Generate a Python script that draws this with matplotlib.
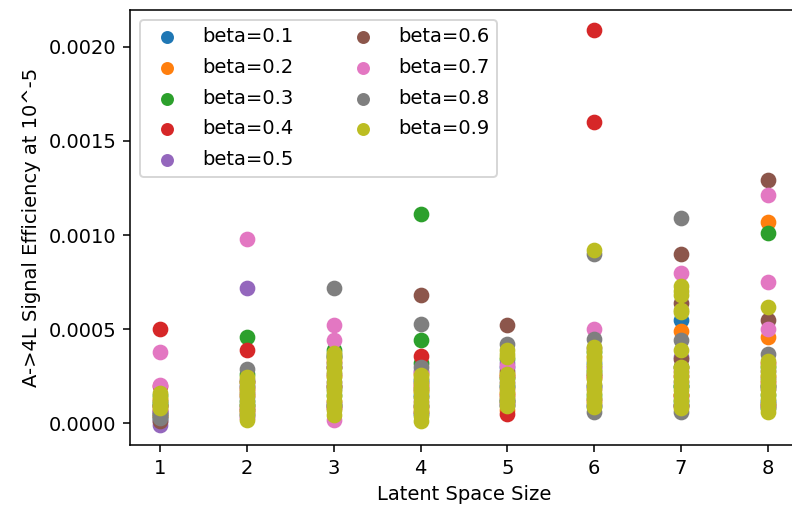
import numpy as np
import matplotlib
matplotlib.use('Agg')
import matplotlib.pyplot as plt

# latent space sizes on the x axis
latent_sizes = [1, 2, 3, 4, 5, 6, 7, 8]
betas = [0.1, 0.2, 0.3, 0.4, 0.5, 0.6, 0.7, 0.8, 0.9]

# signal efficiency values (in units of 1e-4), one list per latent size
eff_b01 = [[0.3, 0.6, 1.0], [0.5, 1.2, 2.0], [1.0, 2.0, 3.0], [0.5, 1.5, 2.3],
           [1.0, 2.0, 3.0], [0.9, 2.0, 3.2], [5.5, 2.0, 1.0], [2.0, 1.2, 0.8]]
eff_b02 = [[0.4, 0.9, 1.3], [0.6, 1.5, 2.2], [1.2, 2.5, 3.3], [0.8, 1.7, 2.6],
           [0.7, 1.6, 2.6], [1.2, 2.4, 3.5], [4.9, 3.0, 1.5], [10.7, 4.6, 2.5]]
eff_b03 = [[0.5, 1.1, 1.5], [4.6, 2.6, 1.0], [3.9, 3.6, 1.5], [11.1, 4.4, 3.2],
           [1.2, 2.4, 3.4], [1.5, 2.8, 3.8], [3.0, 2.0, 1.2], [10.1, 3.0, 1.5]]
eff_b04 = [[5.0, 2.0, 0.7], [3.9, 1.8, 0.8], [3.0, 2.0, 0.8], [3.6, 2.0, 0.6],
           [0.5, 1.5, 2.5], [20.9, 16.0, 2.5], [2.5, 1.5, 0.9], [2.2, 1.0, 3.2]]
eff_b05 = [[-0.1, 0.1, 0.6], [7.2, 1.4, 0.4], [1.1, 2.2, 3.2], [1.0, 2.2, 2.8],
           [1.0, 2.2, 3.2], [1.0, 2.0, 3.0], [3.5, 2.2, 1.0], [1.8, 2.8, 0.9]]
eff_b06 = [[0.1, 0.4, 0.9], [0.7, 1.6, 2.3], [0.9, 2.6, 3.5], [6.8, 1.8, 0.9],
           [5.2, 2.8, 1.3], [1.3, 2.6, 4.0], [9.0, 6.4, 3.4], [12.9, 5.5, 2.0]]
eff_b07 = [[3.8, 2.05, 0.6], [9.8, 2.0, 0.3], [5.2, 4.4, 0.2], [1.2, 2.1, 2.7],
           [3.05, 1.8, 1.1], [5.0, 3.0, 1.8], [8.0, 2.8, 1.4], [12.1, 7.5, 5.0]]
eff_b08 = [[0.3, 0.5, 1.2], [2.9, 2.2, 1.0], [7.2, 3.7, 1.8], [5.3, 3.0, 1.4],
           [4.2, 2.0, 1.2], [9.0, 4.5, 0.6], [10.9, 4.4, 0.6], [3.7, 2.4, 1.1]]
eff_b09 = [[0.8, 1.0, 1.2, 1.4, 1.6],
           [0.2, 0.45, 0.7, 0.95, 1.2, 1.45, 1.7, 1.95, 2.2, 2.45],
           [0.45, 0.7, 0.95, 1.2, 1.45, 1.7, 1.95, 2.2, 2.45, 2.7, 2.95, 3.2, 3.45, 3.75],
           [0.15, 0.4, 0.65, 0.9, 1.15, 1.4, 1.65, 1.9, 2.15, 2.4, 2.55],
           [0.9, 1.15, 1.4, 1.65, 1.9, 2.15, 2.4, 2.6, 3.5, 3.7, 3.9],
           [9.2, 0.85, 1.1, 1.35, 1.6, 1.85, 2.1, 2.35, 2.6, 2.85, 3.1, 3.35, 3.6, 3.85, 4.05],
           [7.3, 7.05, 6.8, 6.0, 5.9, 3.9, 3.0, 2.75, 2.5, 2.25, 2.0, 1.75, 1.5, 1.25, 1.0, 0.8],
           [6.2, 3.3, 3.05, 2.8, 2.55, 2.3, 2.05, 1.8, 1.55, 1.3, 1.05, 0.8, 0.6]]

all_eff = [eff_b01, eff_b02, eff_b03, eff_b04, eff_b05,
           eff_b06, eff_b07, eff_b08, eff_b09]
unit = 1e-4


def main():
    fig = plt.figure(figsize=(792 / 140, 508 / 140), dpi=140)
    ax = fig.add_axes([130 / 792, 63 / 508, 668 / 792, 435 / 508])

    for beta, eff in zip(betas, all_eff):
        xs = []
        ys = []
        for size, vals in zip(latent_sizes, eff):
            xs += [size] * len(vals)
            ys += [v * unit for v in vals]
        ax.scatter(xs, ys, s=50, label='beta=' + str(beta))

    ax.set_xlabel('Latent Space Size')
    ax.set_ylabel('A->4L Signal Efficiency at 10^-5')
    ax.set_xticks(latent_sizes)
    ax.legend(loc='upper left', ncol=2, columnspacing=2.6, labelspacing=0.6,
              markerscale=40 / 50)

    fig.savefig('out.png', dpi=140)


if __name__ == '__main__':
    main()
